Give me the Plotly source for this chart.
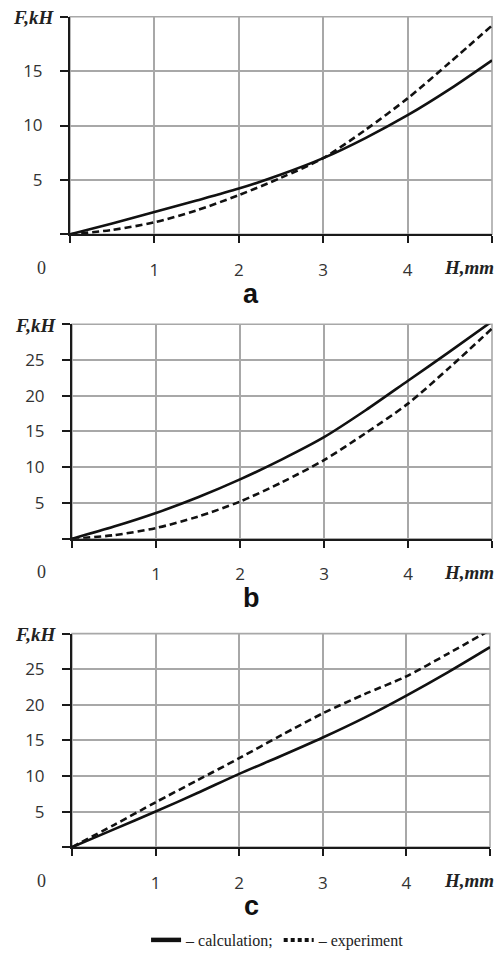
import plotly.graph_objects as go

# ---- data ----
H = [0, 0.5, 1, 1.5, 2, 2.5, 3, 3.5, 4, 4.5, 5]

calc_a = [0, 1.0, 2.05, 3.1, 4.2, 5.5, 7.0, 8.85, 10.95, 13.35, 16.0]
exp_a = [0, 0.4, 1.1, 2.2, 3.6, 5.2, 7.0, 9.6, 12.5, 15.8, 19.2]

calc_b = [0, 1.7, 3.6, 5.8, 8.3, 11.1, 14.2, 18.0, 22.1, 26.2, 30.4]
exp_b = [0, 0.5, 1.5, 3.1, 5.2, 7.9, 11.0, 14.8, 18.9, 24.0, 29.4]

calc_c = [0, 2.5, 5.0, 7.6, 10.3, 12.8, 15.4, 18.2, 21.3, 24.6, 28.1]
exp_c = [0, 3.1, 6.3, 9.4, 12.5, 15.7, 18.8, 21.5, 24.0, 27.2, 30.5]

x_ticks = [0, 1, 2, 3, 4, 5]
x_ticktext = ["", "1", "2", "3", "4", ""]
panel_letters = ["a", "b", "c"]
y_max = [20, 30, 30]
legend_names = ["– calculation;", "– experiment"]

series = [(calc_a, exp_a), (calc_b, exp_b), (calc_c, exp_c)]

W, Ht = 501, 957
# pixel boxes (left, right, top, bottom)
boxes = [(70, 492, 17, 237), (72, 492, 328, 545), (72, 490, 641, 857)]

fig = go.Figure()

tick_font = dict(family="Open Sans, Liberation Sans, sans-serif", size=17, color="#333333")
serif_bi = dict(family="Liberation Serif, Times New Roman, serif", size=19, color="#222222")
GRID = "#a8a8a8"
AX = "#1a1a1a"

for i, ((calc, exp), (l, r, t, b), ym) in enumerate(zip(series, boxes, y_max)):
    n = "" if i == 0 else str(i + 1)
    xa, ya = "x" + n, "y" + n
    fig.add_trace(go.Scatter(x=H, y=calc, mode="lines", xaxis=xa, yaxis=ya,
                             line=dict(color="#111111", width=2.6, shape="spline", smoothing=0.8),
                             showlegend=False))
    fig.add_trace(go.Scatter(x=H, y=exp, mode="lines", xaxis=xa, yaxis=ya,
                             line=dict(color="#111111", width=2.6, dash="7px,4px", shape="spline", smoothing=0.8),
                             showlegend=False))
    yt = list(range(0, ym + 1, 5))
    ytt = [("" if (v == 0 or v == ym) else str(v)) for v in yt]
    fig.layout["xaxis" + n] = dict(
        domain=[l / W, r / W], anchor=ya, range=[0, 5], tickvals=x_ticks, ticktext=x_ticktext,
        ticks="outside", ticklen=7, tickwidth=2, tickcolor=AX,
        showline=True, linecolor=AX, linewidth=2,
        showgrid=True, gridcolor=GRID, gridwidth=1.6, zeroline=False,
        tickfont=tick_font, ticklabelstandoff=12, fixedrange=True)
    fig.layout["yaxis" + n] = dict(
        domain=[1 - b / Ht, 1 - t / Ht], anchor=xa, range=[0, ym], tickvals=yt, ticktext=ytt,
        ticks="outside", ticklen=8, tickwidth=2, tickcolor=AX,
        showline=True, linecolor=AX, linewidth=2,
        showgrid=True, gridcolor=GRID, gridwidth=1.6, zeroline=False,
        tickfont=tick_font, ticklabelstandoff=14, fixedrange=True)
    fig.add_annotation(text="<b><i>F,kH</i></b>", xref="paper", yref="paper",
                       x=(l - 14) / W, y=1 - (t + 1) / Ht, xanchor="right", yanchor="middle",
                       showarrow=False, font=serif_bi)
    fig.add_annotation(text="<b><i>H,mm</i></b>", xref="paper", yref="paper",
                       x=496 / W, y=1 - (b + 34) / Ht, xanchor="right", yanchor="middle",
                       showarrow=False, font=serif_bi)
    fig.add_annotation(text="0", xref="paper", yref="paper",
                       x=41 / W, y=1 - (b + 34) / Ht, xanchor="center", yanchor="middle",
                       showarrow=False, font=dict(family="Liberation Serif, serif", size=18, color="#333333"))
    fig.add_annotation(text="<b>" + panel_letters[i] + "</b>", xref="paper", yref="paper",
                       x=251 / W, y=1 - (b + 60) / Ht, xanchor="center", yanchor="middle",
                       showarrow=False, font=dict(family="Liberation Sans, Arial, sans-serif", size=27, color="#111111"))
    fig.add_shape(type="rect", xref=xa + " domain", yref=ya + " domain", x0=0, x1=1, y0=0, y1=1,
                  line=dict(color=GRID, width=1.6), layer="below")

# legend samples
fig.add_trace(go.Scatter(x=[None], y=[None], mode="lines", xaxis="x3", yaxis="y3",
                         line=dict(color="#111111", width=4.5), name=legend_names[0]))
fig.add_trace(go.Scatter(x=[None], y=[None], mode="lines", xaxis="x3", yaxis="y3",
                         line=dict(color="#111111", width=4, dash="4px,3px"), name=legend_names[1]))

fig.update_layout(
    width=W, height=Ht, margin=dict(l=0, r=0, t=0, b=0),
    paper_bgcolor="white", plot_bgcolor="white",
    showlegend=True,
    legend=dict(orientation="h", x=0.555, xanchor="center", y=1 - 951 / Ht, yanchor="middle",
                font=dict(family="Liberation Serif, Times New Roman, serif", size=16, color="#222222"),
                itemwidth=30, tracegroupgap=0, bgcolor="rgba(0,0,0,0)"),
)

fig.write_html("out.html", config={"displayModeBar": False},
               post_script="document.body.style.margin='0';")
